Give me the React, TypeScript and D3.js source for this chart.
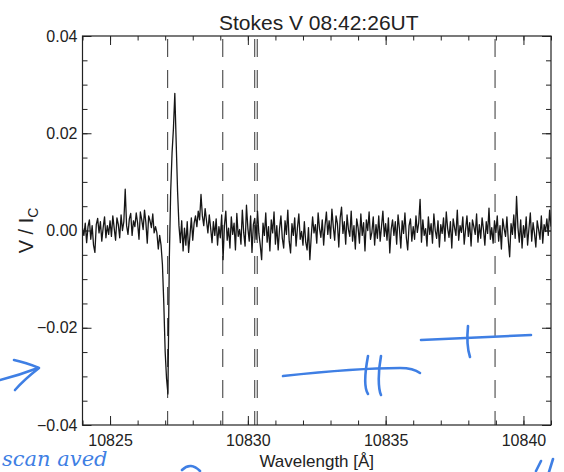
import React, { useEffect, useRef } from "react";
import * as d3 from "d3";

const titleText = "Stokes V 08:42:26UT";
const xTitle = "Wavelength [Å]";

// spectrum sampling (Angstrom)
const lambdaStart = 10824;
const lambdaStep = 0.05;

// V/Ic, in units of 1e-3, one row per Angstrom
const stokesV = [
  0.5, -1.0, 1.5, -2.5, 0.8, 2.2, -1.8, 1.0, -3.0, -4.5, 1.2, 2.5, -0.5, 1.8, -2.2, 0.6, 2.8, -1.5, 1.0, -0.8,
  2.0, -1.2, 3.0, 0.5, -2.0, 2.6, 1.2, -1.5, 3.2, 0.0, 1.8, 8.5, 1.0, -0.8, 2.4, 3.5, -1.0, 2.0, 0.8, 3.6,
  1.5, -1.8, 3.8, 2.2, 0.2, 4.2, 1.6, -2.6, 3.0, 2.0, 0.6, 3.4, -0.5, 0.8, -0.5, -3.8, -1.0, -3.0, -7.0, -15.0,
  -25.0, -30.5, -33.6, -6.0, 8.0, 16.0, 21.0, 28.2, 18.0, 8.0, 1.0, -2.5, 2.0, -4.2, 0.5, -3.0, 1.8, -4.5, -1.0, 2.6,
  -2.0, 1.5, 3.0, 0.8, 4.0, 2.2, 7.4, 3.0, 1.0, 4.5, 2.0, -0.5, 3.2, 0.5, -2.5, 1.8, -1.0, 2.4, -3.0, 0.8,
  -1.5, 3.2, -6.0, 1.0, 4.0, -2.0, 0.5, -3.6, 2.8, -0.8, 1.5, -4.0, 3.5, -1.2, 0.2, -2.8, 4.2, -0.5, -3.2, 5.2,
  0.5, -2.2, 3.0, -4.5, 1.2, 2.5, -1.8, 4.0, -0.6, -3.0, -6.0, 1.5, -1.0, 3.6, -2.4, 0.8, -4.2, 2.2, -0.5, 3.8,
  -2.8, 1.0, -4.0, 0.4, 3.0, -1.6, -3.6, 2.0, -0.8, 4.2, -2.2, -4.6, 1.4, -1.0, 2.6, -3.2, 0.6, 3.4, -1.8, -0.2,
  -3.0, 1.8, -2.4, -4.0, 0.6, -6.0, -1.2, 2.8, -0.5, 1.2, -2.6, 3.6, 0.4, -1.4, 2.2, -3.0, 1.0, 3.8, -0.8, 2.0,
  -1.6, 4.4, 0.8, -2.0, 3.0, 1.4, -3.4, 2.6, 4.8, -0.6, 1.8, -2.8, 3.2, 0.2, -1.2, 4.0, -2.2, 1.0, -3.8, 2.4,
  0.6, -2.6, 3.4, -1.0, 1.6, -4.2, 2.2, 0.0, 3.8, -1.8, -0.4, 2.8, -3.0, 1.2, -1.6, 3.0, -2.2, 0.8, 4.0, -1.2,
  1.4, -2.0, 2.6, -4.6, 0.2, 2.2, -1.0, 1.8, -2.8, 3.2, 0.4, -3.6, 2.0, -0.6, 3.6, -1.4, -4.0, 1.0, 2.4, -2.2,
  0.8, -1.8, 3.0, -0.4, 1.6, 6.4, -2.4, 2.2, -1.0, 0.4, -3.2, 2.8, -0.8, 1.4, -2.6, 3.4, 0.0, -1.6, 2.0, -3.4,
  1.2, -0.6, 2.6, -2.2, 3.8, 0.4, -1.4, 1.8, -3.6, 2.4, 0.6, -1.0, 4.2, -2.0, 1.0, -0.4, 2.8, -2.8, 0.2, 3.0,
  -1.2, 1.6, -3.2, 2.2, 0.8, -0.8, 3.4, -2.4, 1.2, -1.6, 2.6, 0.2, -3.0, 1.8, -0.6, 4.6, -1.8, 0.6, -2.6, 2.0,
  -0.4, 3.0, -2.2, 1.0, -3.8, 2.4, 0.4, -1.2, 2.8, -2.0, -5.4, 1.4, -0.8, 3.2, -1.6, 7.0, 0.6, -2.4, 2.2, -3.6,
  1.0, -1.4, 2.8, -3.0, 0.4, 3.6, -2.2, 1.6, -0.6, -3.4, 2.0, 0.2, -1.8, 3.0, -2.6, 1.2, -0.2, 2.4, -1.0, 4.2, 0.8,
];

// line positions marked with dashed verticals (Si I, He I triplet, Ca I)
const lineCenters = [10827.09, 10829.09, 10830.25, 10830.34, 10838.97];

const xDomain = [10824, 10841];
const yDomain = [-0.04, 0.04];
const xMajorTicks = [10825, 10830, 10835, 10840];
const yMajorTicks = [0.04, 0.02, 0, -0.02, -0.04];

// blue pen marks on the scanned printout
const penStrokes = [
  "M0,380 C12,377 25,373 38,368",
  "M14,360 C24,362 32,365 39,368 C30,375 22,382 15,390",
  "M283,376 C320,372 360,368 400,368 C410,368 416,370 420,373",
  "M368,356 C365,372 364,388 368,394",
  "M381,356 C378,372 378,388 381,395",
  "M421,340 C450,339 490,337 531,335",
  "M468,326 C467,336 467,348 470,357",
  "M182,470 C188,464 194,465 200,471",
  "M536,471 L541,461",
  "M549,472 L553,459",
];

const W = 564;
const H = 472;
const font = "'Liberation Sans', Arial, Helvetica, sans-serif";

const App = () => {
  const ref = useRef<SVGSVGElement>(null);

  useEffect(() => {
    const svg = d3.select(ref.current);
    svg.selectAll("*").remove();

    const left = 82.5, right = 551, top = 36, bottom = 425;

    const x = d3.scaleLinear().domain(xDomain).range([left, right]);
    const y = d3.scaleLinear().domain(yDomain).range([bottom, top]);

    svg.append("rect").attr("width", W).attr("height", H).attr("fill", "#fff");

    svg.append("clipPath").attr("id", "plotclip")
      .append("rect")
      .attr("x", left).attr("y", top)
      .attr("width", right - left).attr("height", bottom - top);

    // dashed line markers
    svg.append("g")
      .selectAll("line")
      .data(lineCenters)
      .join("line")
      .attr("x1", (d) => x(d)).attr("x2", (d) => x(d))
      .attr("y1", top).attr("y2", bottom)
      .attr("stroke", "#333")
      .attr("stroke-width", 1)
      .attr("stroke-dasharray", "18,13")
      .attr("stroke-dashoffset", -3);

    // spectrum
    const line = d3.line<number>()
      .x((d, i) => x(lambdaStart + i * lambdaStep))
      .y((d) => y(d / 1000));

    svg.append("path")
      .datum(stokesV)
      .attr("clip-path", "url(#plotclip)")
      .attr("d", line)
      .attr("fill", "none")
      .attr("stroke", "#161616")
      .attr("stroke-width", 1.3)
      .attr("stroke-linejoin", "round");

    // axes (IDL style box, ticks inward on all four sides)
    const styleAxis = (g) => {
      g.select(".domain").remove();
      g.selectAll("line").attr("stroke", "#222");
      g.attr("font-family", font).attr("font-size", 16).attr("color", "#222");
    };

    const xMinor = d3.range(xDomain[0], xDomain[1] + 1, 1);
    const yMinor = d3.range(-40, 41, 5).map((v) => v / 1000);

    svg.append("g")
      .attr("transform", `translate(0,${bottom})`)
      .call(d3.axisBottom(x).tickValues(xMinor).tickSizeInner(-4.5).tickSizeOuter(0).tickFormat(() => ""))
      .call(styleAxis);
    svg.append("g")
      .attr("transform", `translate(0,${bottom})`)
      .call(d3.axisBottom(x).tickValues(xMajorTicks).tickSizeInner(-9).tickSizeOuter(0).tickPadding(10).tickFormat(d3.format("d")))
      .call(styleAxis);

    svg.append("g")
      .attr("transform", `translate(0,${top})`)
      .call(d3.axisTop(x).tickValues(xMinor).tickSizeInner(-4.5).tickSizeOuter(0).tickFormat(() => ""))
      .call(styleAxis);
    svg.append("g")
      .attr("transform", `translate(0,${top})`)
      .call(d3.axisTop(x).tickValues(xMajorTicks).tickSizeInner(-9).tickSizeOuter(0).tickFormat(() => ""))
      .call(styleAxis);

    svg.append("g")
      .attr("transform", `translate(${left},0)`)
      .call(d3.axisLeft(y).tickValues(yMinor).tickSizeInner(-5).tickSizeOuter(0).tickFormat(() => ""))
      .call(styleAxis);
    svg.append("g")
      .attr("transform", `translate(${left},0)`)
      .call(d3.axisLeft(y).tickValues(yMajorTicks).tickSizeInner(-9).tickSizeOuter(0).tickPadding(5).tickFormat(d3.format(".2f")))
      .call(styleAxis);

    svg.append("g")
      .attr("transform", `translate(${right},0)`)
      .call(d3.axisRight(y).tickValues(yMinor).tickSizeInner(-5).tickSizeOuter(0).tickFormat(() => ""))
      .call(styleAxis);
    svg.append("g")
      .attr("transform", `translate(${right},0)`)
      .call(d3.axisRight(y).tickValues(yMajorTicks).tickSizeInner(-9).tickSizeOuter(0).tickFormat(() => ""))
      .call(styleAxis);

    svg.append("rect")
      .attr("x", left).attr("y", top)
      .attr("width", right - left).attr("height", bottom - top)
      .attr("fill", "none")
      .attr("stroke", "#222")
      .attr("stroke-width", 1.2);

    // titles
    svg.append("text")
      .attr("x", (left + right) / 2 + 2).attr("y", 30)
      .attr("text-anchor", "middle")
      .attr("font-family", font).attr("font-size", 21).attr("fill", "#222")
      .text(titleText);

    svg.append("text")
      .attr("x", (left + right) / 2).attr("y", 467)
      .attr("text-anchor", "middle")
      .attr("font-family", font).attr("font-size", 17).attr("fill", "#222")
      .text(xTitle);

    const yt = svg.append("text")
      .attr("transform", `translate(33,${y(0)}) rotate(-90)`)
      .attr("text-anchor", "middle")
      .attr("font-family", font).attr("font-size", 20).attr("fill", "#222");
    yt.append("tspan").text("V / I");
    yt.append("tspan").attr("font-size", 14).attr("dy", 5).text("C");

    // pen annotations
    svg.append("g")
      .selectAll("path")
      .data(penStrokes)
      .join("path")
      .attr("d", (d) => d)
      .attr("fill", "none")
      .attr("stroke", "#3f7fe4")
      .attr("stroke-width", 2.6)
      .attr("stroke-linecap", "round")
      .attr("stroke-linejoin", "round");

    svg.append("text")
      .attr("x", 2).attr("y", 466)
      .attr("font-family", "'DejaVu Serif', serif")
      .attr("font-style", "italic")
      .attr("font-size", 21)
      .attr("fill", "#3f7fe4")
      .text("scan aved");
  }, []);

  return (
    <svg
      ref={ref}
      width={W}
      height={H}
      style={{ position: "absolute", left: 0, top: 0, display: "block" }}
    />
  );
};

export default App;
